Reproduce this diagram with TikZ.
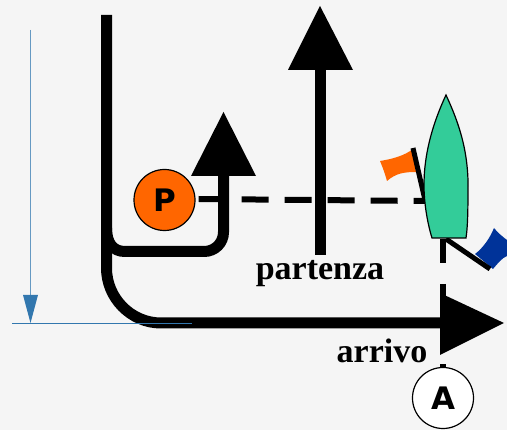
\documentclass[tikz,border=0pt]{standalone}
\usepackage{fontspec}
\setmainfont{Liberation Serif}
\setsansfont{DejaVu Sans}
\usetikzlibrary{positioning}
\definecolor{bgcol}{HTML}{F5F5F5}
\definecolor{hullcol}{HTML}{33CC99}
\definecolor{orangecol}{HTML}{FF6600}
\definecolor{bluecol}{HTML}{003399}
\definecolor{depthcol}{HTML}{3277AE}
\tikzset{%
track/.style={line width=11pt},
head/.style={fill=black,draw=none},
sightline/.style={line width=6pt,dash pattern=on 27pt off 16pt},
pole/.style={line width=5pt},
mark circle/.style={circle,draw=black,line width=1.2pt,minimum size=61pt,inner sep=0pt,
  font=\sffamily\bfseries\fontsize{31}{31}\selectfont},
course label/.style={font=\bfseries\fontsize{34}{34}\selectfont,inner sep=0pt}
}
\begin{document}
\begin{tikzpicture}[x=1pt,y=-1pt]
\useasboundingbox[fill=bgcol] (0,0) rectangle (507,430);

% dashed lines first, everything else goes over them
\node[mark circle,fill=orangecol] (P) at (164.5,200) {P};
\node[mark circle,fill=white] (A) at (443,398) {A};
\coordinate (boatleft) at (425,201);
\coordinate (boatstern) at (443,239);
\draw[sightline] (P.east)++(3,-1) coordinate (sightstart) -- (boatleft);
\draw[line width=5.5pt] (boatstern) -- (443,263);
\draw[line width=5.5pt] (443,284) -- (443,296);
\draw[line width=5.5pt] (443,364.5) -- (A.north);

% long track and finish arrow
\draw[track] (106.5,15) -- (106.5,268) .. controls (106.5,298) and (131,323) .. (161,323) -- (445,323) coordinate (arrivoend);
\fill[head] (440,293) -- (504,323) -- (440,355) -- cycle;
% short track
\draw[track] (106.5,228) .. controls (106.5,243) and (113,251.5) .. (125,251.5) -- (204,251.5)
   .. controls (215,251.5) and (223.5,243) .. (223.5,232) -- (223.5,172);
\fill[head] (223.5,112) -- (256,176) -- (191,176) -- cycle;
% start arrow
\draw[track] (320,255) -- (320,68);
\fill[head] (320,6) -- (353,70) -- (288,70) -- cycle;

% depth arrow
\draw[depthcol,line width=1pt] (12,323.5) -- (192,323.5);
\draw[depthcol!75,line width=1.2pt] (30.5,30) -- (30.5,296);
\fill[depthcol] (23,295) -- (38,295) -- (30.5,323) -- cycle;

% flags
\fill[orangecol] (380,161) .. controls (392,159) and (404,156) .. (413,149)
   -- (416,172) .. controls (405,172) and (396,173) .. (387,181)
   .. controls (385,174) and (383,168) .. (380,161) -- cycle;
\fill[bluecol] (494,228) .. controls (498,233) and (503,237) .. (507,240) -- (507,256)
   .. controls (502,258) and (498,263) .. (493,269) -- (475,254)
   .. controls (483,248) and (490,238) .. (494,228) -- cycle;
\draw[pole] (413,148) -- (425,200);
\draw[pole] (446,239) -- (490,269);

% boat
\draw[fill=hullcol,line width=1.2pt] (446,95) .. controls (432,125) and (424,155) .. (424,185)
   .. controls (424,205) and (428,225) .. (432,238) -- (466,238)
   .. controls (468,225) and (468,205) .. (468,180)
   .. controls (467,150) and (460,125) .. (446,95) -- cycle;

\node[course label] (partenza) at (320,274) {partenza};
\node[course label] (arrivo) at (382,351) {arrivo};
\end{tikzpicture}
\end{document}
